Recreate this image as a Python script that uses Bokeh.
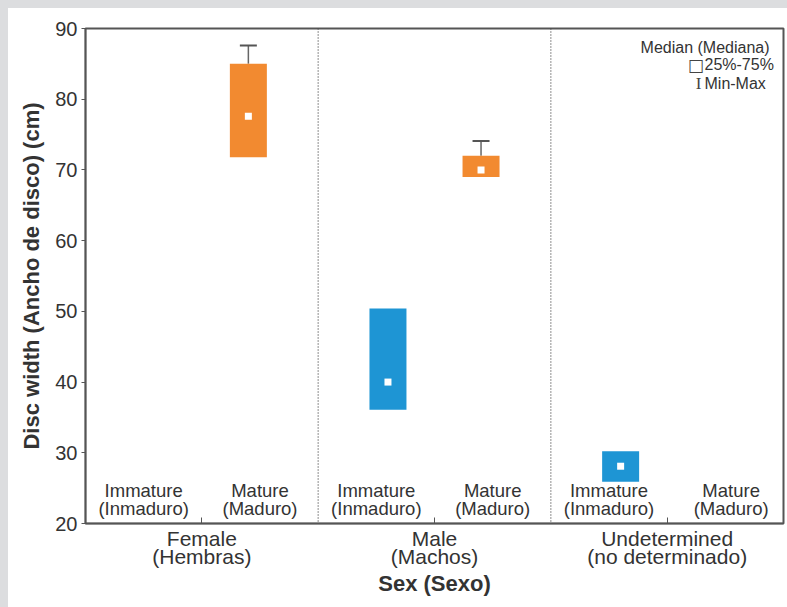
from bokeh.plotting import figure
from bokeh.models import ColumnDataSource, FixedTicker, Range1d, Span, Whisker, TeeHead, Spacer
from bokeh.layouts import column, row
from bokeh.core.properties import value
from bokeh.embed import file_html
from bokeh.resources import INLINE

# ---- data ----
groups = ["Female\n(Hembras)", "Male\n(Machos)", "Undetermined\n(no determinado)"]
group_pos = [1, 3, 5]
stage_labels = ["Immature\n(Inmaduro)", "Mature\n(Maduro)"] * 3
stage_label_pos = [0.5, 1.5, 2.5, 3.5, 4.5, 5.55]

box_pos = [1.4, 2.6, 3.4, 4.6]
box_stage = ["Mature", "Immature", "Mature", "Immature"]
q1 = [71.8, 36.1, 69.0, 25.9]
median = [77.6, 40.0, 70.0, 28.1]
q3 = [85.0, 50.4, 72.0, 30.2]

whisker_pos = [1.4, 3.4]
whisker_low = [85.0, 72.0]
whisker_max = [87.6, 74.1]

dividers = [2, 4]
y_ticks = [20, 30, 40, 50, 60, 70, 80, 90]

colors = {"Immature": "#1E95D4", "Mature": "#F28A30"}
FONT = "Liberation Sans"
GRAY = "#dcdddf"

p = figure(width=779, height=599, output_backend="svg", toolbar_location=None,
           x_range=Range1d(0, 6), y_range=Range1d(20, 90),
           min_border_left=77, min_border_right=4, min_border_top=20, min_border_bottom=84)
p.background_fill_color = "white"
p.border_fill_color = "white"
p.outline_line_color = "#555555"
p.outline_line_width = 2
p.xgrid.visible = False
p.ygrid.visible = False

# y axis
ya = p.yaxis[0]
ya.ticker = FixedTicker(ticks=y_ticks)
ya.minor_tick_line_color = None
ya.major_tick_out = 4
ya.major_tick_in = 0
ya.axis_line_color = "#555555"
ya.axis_line_width = 1.5
ya.major_tick_line_color = "#555555"
ya.major_label_text_font = FONT
ya.major_label_text_font_size = "20px"
ya.major_label_text_color = "#333333"
ya.major_label_standoff = 4
ya.axis_label = "Disc width (Ancho de disco) (cm)"
ya.axis_label_text_font = FONT
ya.axis_label_text_font_size = "22px"
ya.axis_label_text_font_style = "bold"
ya.axis_label_text_color = "#333333"
ya.axis_label_standoff = 8

# x axis
xa = p.xaxis[0]
xa.ticker = FixedTicker(ticks=group_pos)
xa.major_label_overrides = {g: lab for g, lab in zip(group_pos, groups)}
xa.minor_tick_line_color = None
xa.major_tick_in = 6
xa.major_tick_out = 0
xa.axis_line_color = "#555555"
xa.axis_line_width = 1.5
xa.major_tick_line_color = "#555555"
xa.major_label_text_font = FONT
xa.major_label_text_font_size = "21px"
xa.major_label_text_color = "#333333"
xa.major_label_text_line_height = 0.8
xa.major_label_standoff = 3
xa.axis_label = "Sex (Sexo)"
xa.axis_label_text_font = FONT
xa.axis_label_text_font_size = "22px"
xa.axis_label_text_font_style = "bold"
xa.axis_label_text_color = "#333333"
xa.axis_label_standoff = 0

# dividers
for d in dividers:
    p.add_layout(Span(location=d, dimension="height", line_color="#444444",
                      line_width=1.2, line_dash="1 2"))

# whiskers
wsrc = ColumnDataSource(dict(x=whisker_pos, lower=whisker_low, upper=whisker_max))
p.add_layout(Whisker(source=wsrc, base="x", lower="lower", upper="upper",
                     line_color="#666666", line_width=1.5, lower_head=None,
                     upper_head=TeeHead(size=17, line_color="#555555", line_width=2),
                     level="underlay"))

# boxes
bsrc = ColumnDataSource(dict(x=box_pos, q1=q1, q3=q3, med=median,
                             color=[colors[s] for s in box_stage]))
p.vbar(x="x", bottom="q1", top="q3", width=0.318, fill_color="color",
       line_color=None, source=bsrc)
p.scatter(x="x", y="med", marker="square", size=7, fill_color="white",
          line_color=None, source=bsrc)

# stage labels
ssrc = ColumnDataSource(dict(x=stage_label_pos, y=[20.6] * 6, t=stage_labels))
p.text(x="x", y="y", text="t", source=ssrc, text_align="center",
       text_baseline="bottom", text_font=value(FONT), text_font_size="18.5px",
       text_color="#333333", text_line_height=0.88)

# legend texts
p.text(x=[5.88], y=[87.3], text=["Median (Mediana)"], text_align="right",
       text_baseline="middle", text_font=value(FONT), text_font_size="16px",
       text_color="#333333")
p.text(x=[5.321, 5.321], y=[84.84, 82.16], text=["25%-75%", "Min-Max"],
       text_align="left", text_baseline="middle", text_font=value(FONT),
       text_font_size="16px", text_color="#333333")
p.text(x=[5.315], y=[84.84], text=["\u25a1"], text_align="right",
       text_baseline="middle", text_font=value("DejaVu Sans"),
       text_font_size="17px", text_color="#444444")
p.text(x=[5.27], y=[82.16], text=["I"], text_align="center",
       text_baseline="middle", text_font=value("Liberation Serif"),
       text_font_size="17px", text_color="#444444")

top_strip = Spacer(width=787, height=8, styles={"background-color": GRAY})
left_strip = Spacer(width=8, height=599, styles={"background-color": GRAY})
layout = column(top_strip, row(left_strip, p, spacing=0), spacing=0)

open("out.html", "w").write(file_html(layout, INLINE))
